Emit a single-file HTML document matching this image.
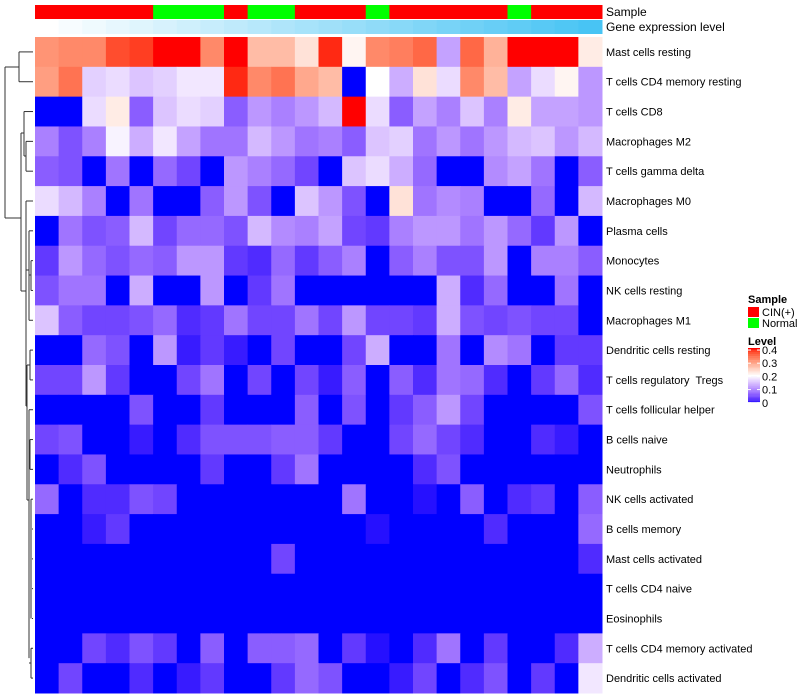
<!DOCTYPE html>
<html><head><meta charset="utf-8"><style>
body{margin:0;background:#fff;}
svg{display:block;font-family:"Liberation Sans",sans-serif;}
text{white-space:pre;}
</style></head><body>
<svg id="chart" width="800" height="700">
<g id="dendro" stroke="#333" stroke-width="1" fill="none"></g>
<g id="cells"></g>
<g id="annot"></g>
<g id="labels" font-size="11" fill="#000"></g>
<g id="legend" font-size="11"></g>
</svg>
<script>
const rowNames=["Mast cells resting","T cells CD4 memory resting","T cells CD8","Macrophages M2","T cells gamma delta","Macrophages M0","Plasma cells","Monocytes","NK cells resting","Macrophages M1","Dendritic cells resting","T cells regulatory  Tregs","T cells follicular helper","B cells naive","Neutrophils","NK cells activated","B cells memory","Mast cells activated","T cells CD4 naive","Eosinophils","T cells CD4 memory activated","Dendritic cells activated"];
const sampleGroups=["CIN","CIN","CIN","CIN","CIN","Normal","Normal","Normal","CIN","Normal","Normal","CIN","CIN","CIN","Normal","CIN","CIN","CIN","CIN","CIN","Normal","CIN","CIN","CIN"];
const r0=[0.31,0.32,0.32,0.37,0.38,0.4,0.4,0.32,0.4,0.27,0.27,0.23,0.39,0.21,0.32,0.33,0.35,0.12,0.35,0.28,0.4,0.4,0.4,0.22];
const r1=[0.3,0.34,0.16,0.17,0.15,0.16,0.18,0.18,0.39,0.32,0.34,0.29,0.27,0,0.2,0.13,0.23,0.17,0.32,0.27,0.12,0.17,0.21,0.11];
const r2=[0,0,0.17,0.22,0.06,0.15,0.17,0.16,0.06,0.11,0.09,0.11,0.14,0.4,0.17,0.06,0.12,0.09,0.15,0.09,0.22,0.12,0.12,0.11];
const r3=[0.09,0.05,0.09,0.19,0.13,0.18,0.12,0.08,0.08,0.14,0.11,0.08,0.09,0.06,0.15,0.16,0.08,0.11,0.08,0.11,0.14,0.15,0.11,0.14];
const r4=[0.06,0.05,0,0.08,0,0.07,0.04,0,0.11,0.09,0.07,0.04,0,0.15,0.17,0.13,0.07,0,0,0.1,0.12,0.08,0,0.06];
const r5=[0.17,0.14,0.09,0,0.08,0,0,0.06,0.11,0.05,0,0.15,0.11,0.05,0,0.23,0.08,0.1,0.09,0,0,0.07,0,0.14];
const r6=[0,0.08,0.05,0.06,0.14,0.04,0.07,0.07,0.05,0.14,0.1,0.09,0.12,0.04,0.03,0.09,0.11,0.11,0.08,0.11,0.07,0.03,0.11,0];
const r7=[0.03,0.11,0.07,0.05,0.07,0.06,0.11,0.11,0.03,0.02,0.07,0.03,0.06,0.09,0,0.06,0.09,0.05,0.05,0.11,0,0.09,0.09,0.06];
const r8=[0.05,0.08,0.08,0,0.13,0,0,0.11,0,0.03,0.08,0,0,0,0,0,0,0.13,0.02,0.07,0,0,0.08,0];
const r9=[0.15,0.06,0.04,0.04,0.05,0.07,0.02,0.03,0.08,0.04,0.04,0.08,0.04,0.11,0.04,0.04,0.03,0.13,0.05,0.04,0.05,0.04,0.04,0];
const r10=[0,0,0.07,0.05,0,0.11,0.01,0.03,0.01,0,0.04,0,0,0.04,0.13,0,0,0.08,0,0.1,0.08,0,0.03,0.03];
const r11=[0.04,0.04,0.11,0.03,0,0,0.04,0.08,0,0.04,0,0.04,0.01,0.06,0,0.06,0.02,0.08,0.07,0.02,0,0.03,0.07,0.02];
const r12=[0,0,0,0,0.05,0,0,0.03,0,0,0,0.06,0,0.05,0,0.03,0.06,0.11,0.04,0,0,0,0,0.05];
const r13=[0.04,0.05,0,0,0.01,0,0.02,0.05,0.05,0.05,0.06,0.06,0.03,0,0,0.04,0.07,0.04,0.02,0,0,0.02,0.01,0];
const r14=[0,0.02,0.05,0,0,0,0,0.03,0,0,0.03,0.08,0,0,0,0,0.02,0.05,0,0,0,0,0,0];
const r15=[0.07,0,0.02,0.02,0.05,0.04,0,0,0,0,0,0,0,0.08,0,0,0.005,0,0.06,0,0.02,0.03,0,0.06];
const r16=[0,0,0.01,0.03,0,0,0,0,0,0,0,0,0,0,0.005,0,0,0,0,0.02,0,0,0,0.07];
const r17=[0,0,0,0,0,0,0,0,0,0,0.04,0,0,0,0,0,0,0,0,0,0,0,0,0.02];
const r18=[0,0,0,0,0,0,0,0,0,0,0,0,0,0,0,0,0,0,0,0,0,0,0,0];
const r19=[0,0,0,0,0,0,0,0,0,0,0,0,0,0,0,0,0,0,0,0,0,0,0,0];
const r20=[0,0,0.04,0.02,0.05,0.03,0,0.06,0,0.06,0.06,0.07,0,0.03,0.005,0,0.02,0.08,0,0.03,0,0,0.02,0.13];
const r21=[0,0.04,0,0,0.02,0,0.01,0.03,0,0,0.03,0.07,0.05,0,0,0.01,0.04,0,0.02,0.05,0,0.03,0,0.18];
const legendTicks=["0.4","0.3","0.2","0.1","0"];
const values=[r0,r1,r2,r3,r4,r5,r6,r7,r8,r9,r10,r11,r12,r13,r14,r15,r16,r17,r18,r19,r20,r21];

const NS="http://www.w3.org/2000/svg";
const X0=35,X1=602,Y0=37,Y1=693,nC=24,nR=rowNames.length;
const cw=(X1-X0)/nC,rh=(Y1-Y0)/nR;
const xs=i=>X0+i*cw, ys=j=>Y0+j*rh;
function mk(t,a,p){const e=document.createElementNS(NS,t);for(const k in a)e.setAttribute(k,a[k]);p.appendChild(e);return e;}
// LAB interpolation
function lin(c){c/=255;return c<=0.04045?c/12.92:Math.pow((c+0.055)/1.055,2.4);}
function gam(c){c=c<=0.0031308?12.92*c:1.055*Math.pow(c,1/2.4)-0.055;return Math.round(Math.max(0,Math.min(1,c))*255);}
function toLab(rgb){const r=lin(rgb[0]),g=lin(rgb[1]),b=lin(rgb[2]);
 let x=(0.4124*r+0.3576*g+0.1805*b)/0.95047,y=0.2126*r+0.7152*g+0.0722*b,z=(0.0193*r+0.1192*g+0.9505*b)/1.08883;
 const f=t=>t>0.008856?Math.cbrt(t):7.787*t+16/116;x=f(x);y=f(y);z=f(z);
 return [116*y-16,500*(x-y),200*(y-z)];}
function fromLab(l){let y=(l[0]+16)/116,x=l[1]/500+y,z=y-l[2]/200;
 const fi=t=>t*t*t>0.008856?t*t*t:(t-16/116)/7.787;x=fi(x)*0.95047;y=fi(y);z=fi(z)*1.08883;
 const r=3.2406*x-1.5372*y-0.4986*z,g=-0.9689*x+1.8758*y+0.0415*z,b=0.0557*x-0.2040*y+1.0570*z;
 return `rgb(${gam(r)},${gam(g)},${gam(b)})`;}
const LB=toLab([0,0,255]),LW=toLab([255,255,255]),LR=toLab([255,0,0]);
function col(v){const t=Math.max(0,Math.min(0.4,v))/0.4;let a,b,u;
 if(t<0.5){a=LB;b=LW;u=t/0.5;}else{a=LW;b=LR;u=(t-0.5)/0.5;}
 return fromLab([0,1,2].map(k=>a[k]+(b[k]-a[k])*u));}
const cells=document.getElementById('cells');
values.forEach((row,j)=>row.forEach((v,i)=>{
 const e=mk('rect',{x:xs(i),y:ys(j),width:cw+0.5,height:rh+0.5,fill:col(v)},cells);
 
 
}));
const labels=document.getElementById('labels');
rowNames.forEach((n,j)=>{const t=mk('text',{x:606,y:ys(j)+rh/2+4},labels);t.textContent=n;
 
 });
const an=document.getElementById('annot');
sampleGroups.forEach((g,i)=>{const e=mk('rect',{x:xs(i),y:5,width:cw+0.5,height:14,fill:g==="CIN"?"#ff0000":"#00ff00"},an);
 
 
 const u=i/(nC-1);
 const e2=mk('rect',{x:xs(i),y:20,width:cw+0.5,height:14,fill:`rgb(${Math.round(255-(255-72)*u)},${Math.round(255-(255-196)*u)},${Math.round(255-(255-244)*u)})`},an);
 
 });
let t=mk('text',{x:606,y:16,'font-size':12},an);t.textContent="Sample";
t=mk('text',{x:606,y:31,'font-size':12},an);t.textContent="Gene expression level";
// dendrogram
const d=document.getElementById('dendro');const yc=j=>ys(j)+rh/2;
function L(x1,y1,x2,y2){mk('line',{x1,y1,x2,y2},d);}
function leaf(j,x){L(x,yc(j),33,yc(j));}
L(5,67,5,218);L(5,67,19,67);L(5,218,21,218);
L(19,yc(0),19,yc(1));leaf(0,19);leaf(1,19);
L(21,133,21,291);L(21,133,24,133);L(21,291,26,291);
L(24,yc(2),24,156);leaf(2,24);L(24,156,26,156);L(26,yc(3),26,yc(4));leaf(3,26);leaf(4,26);
L(26,201,26,406);leaf(5,26);L(26,406,27,406);
L(26,270,29,270);L(29,yc(6),29,yc(9));leaf(6,29);leaf(9,29);L(29,275,31,275);L(31,yc(7),31,yc(8));leaf(7,31);leaf(8,31);
L(27,365,27,500);L(27,365,30,365);L(30,yc(10),30,yc(11));leaf(10,30);leaf(11,30);
L(27,500,29,500);L(29,yc(12),29,yc(21)-20);leaf(12,29);leaf(13,30);L(30,yc(13),30,yc(14));leaf(14,30);
leaf(15,31);L(31,yc(15),31,yc(19));leaf(16,32);leaf(17,32);leaf(18,32);leaf(19,32);
L(29,663,31,663);L(31,yc(20),31,yc(21));leaf(20,31);leaf(21,31);
// legend
const lg=document.getElementById('legend');
t=mk('text',{x:748,y:303,'font-weight':'bold'},lg);t.textContent="Sample";
mk('rect',{x:748,y:307,width:11,height:10,fill:'#ff0000'},lg);t=mk('text',{x:762,y:316},lg);t.textContent="CIN(+)";
mk('rect',{x:748,y:318,width:11,height:10,fill:'#00ff00'},lg);t=mk('text',{x:762,y:327},lg);t.textContent="Normal";
t=mk('text',{x:748,y:345,'font-weight':'bold'},lg);t.textContent="Level";
for(let k=0;k<40;k++){mk('rect',{x:748,y:348+k*1.35,width:12,height:1.5,fill:col(0.4-k*0.01)},lg);}
legendTicks.forEach((s,k)=>{const y=350+k*13.2;mk('line',{x1:748,y1:y,x2:751,y2:y,stroke:'#fff'},lg);mk('line',{x1:757,y1:y,x2:760,y2:y,stroke:'#fff'},lg);
 const tt=mk('text',{x:762,y:y+4},lg);tt.textContent=s;});
</script>
</body></html>
